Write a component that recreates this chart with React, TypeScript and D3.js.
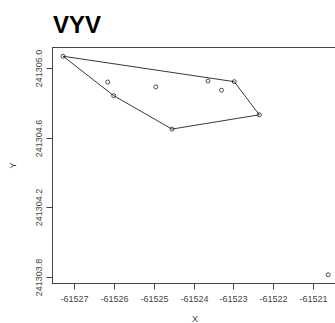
import React, { useEffect, useRef } from "react";
import * as d3 from "d3";

const xs = [-61527.28, -61526.16, -61526.01, -61524.95, -61524.545, -61523.64, -61523.30, -61522.98, -61522.35, -61520.62];
const ys = [241305.067, 241304.919, 241304.841, 241304.891, 241304.649, 241304.925, 241304.872, 241304.921, 241304.731, 241303.813];
const hullIdx = [0, 7, 8, 4, 2];
const xTicks = [-61527, -61526, -61525, -61524, -61523, -61522, -61521];
const yTicks = [241303.8, 241304.2, 241304.6, 241305.0];
const title = "VYV";
const xLabel = "X";
const yLabel = "Y";

export default function App() {
  const ref = useRef<SVGSVGElement>(null);
  useEffect(() => {
    const svg = d3.select(ref.current);
    svg.selectAll("*").remove();
    const left = 52.5, top = 47.5, bottom = 283.5;
    const xmin = d3.min(xs)!, xmax = d3.max(xs)!;
    const ymin = d3.min(ys)!, ymax = d3.max(ys)!;
    const xr = xmax - xmin, yr = ymax - ymin;
    const x0 = xmin - 0.04 * xr, x1 = xmax + 0.04 * xr;
    const pxPerX = 39.8;
    const right = left + (x1 - x0) * pxPerX;
    const x = d3.scaleLinear().domain([x0, x1]).range([left, right]);
    const y = d3.scaleLinear().domain([ymin - 0.04 * yr, ymax + 0.04 * yr]).range([bottom, top]);
    const font = "Liberation Sans, Arial, sans-serif";
    const col = "#444";

    svg.append("rect").attr("x", left).attr("y", top).attr("width", right - left).attr("height", bottom - top)
      .attr("fill", "none").attr("stroke", col).attr("stroke-width", 1);

    const g = svg.append("g");
    xTicks.forEach(t => {
      const px = Math.round(x(t)) + 0.5;
      g.append("line").attr("x1", px).attr("x2", px).attr("y1", bottom).attr("y2", bottom + 6).attr("stroke", col);
      g.append("text").attr("x", px).attr("y", bottom + 18.5).attr("text-anchor", "middle")
        .attr("font-family", font).attr("font-size", 9).attr("fill", col).text(String(t));
    });
    yTicks.forEach(t => {
      const py = Math.round(y(t)) + 0.5;
      g.append("line").attr("x1", left - 6).attr("x2", left).attr("y1", py).attr("y2", py).attr("stroke", col);
      g.append("text").attr("transform", `translate(${left - 11},${py}) rotate(-90)`).attr("text-anchor", "middle")
        .attr("font-family", font).attr("font-size", 9).attr("fill", col).text(t.toFixed(1));
    });

    svg.append("text").attr("x", 195).attr("y", 322).attr("text-anchor", "middle")
      .attr("font-family", font).attr("font-size", 9).attr("fill", col).text(xLabel);
    svg.append("text").attr("transform", `translate(16,${(top + bottom) / 2}) rotate(-90)`).attr("text-anchor", "middle")
      .attr("font-family", font).attr("font-size", 9).attr("fill", col).text(yLabel);

    svg.append("text").attr("x", 53).attr("y", 33).attr("font-family", font).attr("font-weight", "bold")
      .attr("font-size", 24).attr("fill", "#000").text(title);

    const hull = hullIdx.map(i => [x(xs[i]), y(ys[i])] as [number, number]);
    svg.append("path").attr("d", d3.line()(hull.concat([hull[0]]))!).attr("fill", "none")
      .attr("stroke", "#222").attr("stroke-width", 0.9);

    svg.append("g").selectAll("circle").data(xs.map((v, i) => [v, ys[i]])).join("circle")
      .attr("cx", d => x(d[0])).attr("cy", d => y(d[1])).attr("r", 2)
      .attr("fill", "none").attr("stroke", "#222").attr("stroke-width", 0.8);
  }, []);
  return (
    <svg ref={ref} width={335} height={323} style={{ position: "absolute", left: 0, top: 0, background: "#fff" }} />
  );
}
